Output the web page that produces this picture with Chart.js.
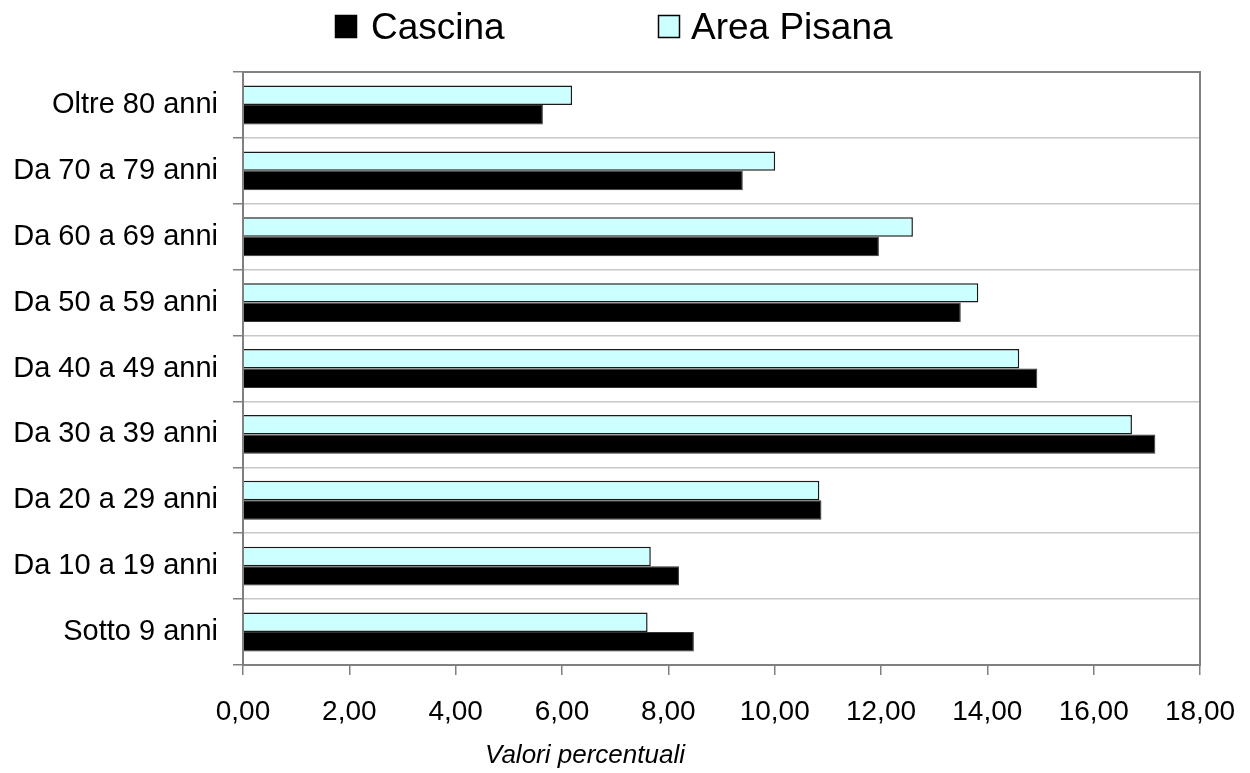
<!DOCTYPE html>
<html>
<head>
<meta charset="utf-8">
<script src="https://cdn.jsdelivr.net/npm/chart.js@4/dist/chart.umd.min.js"></script>
<style>
html, body { margin: 0; padding: 0; background: #ffffff; }
#wrap { position: relative; width: 1250px; height: 773px; }
</style>
</head>
<body>
<div id="wrap"><canvas id="c" width="1250" height="773"></canvas></div>
<script>
// ---- data ----
const categories = ["Oltre 80 anni", "Da 70 a 79 anni", "Da 60 a 69 anni", "Da 50 a 59 anni",
  "Da 40 a 49 anni", "Da 30 a 39 anni", "Da 20 a 29 anni", "Da 10 a 19 anni", "Sotto 9 anni"];
const cascina = [5.64, 9.40, 11.96, 13.50, 14.94, 17.16, 10.88, 8.20, 8.48];
const areaPisana = [6.19, 10.01, 12.60, 13.83, 14.60, 16.72, 10.84, 7.67, 7.61];
const seriesNames = ["Cascina", "Area Pisana"];
const xTicks = [0, 2, 4, 6, 8, 10, 12, 14, 16, 18];
const xTitle = "Valori percentuali";

const FONT = "'Liberation Sans', Arial, sans-serif";

// custom legend drawn on the canvas (Cascina first, Area Pisana second)
const legendPlugin = {
  id: 'topLegend',
  afterDraw(chart) {
    const ctx = chart.ctx;
    const items = [
      { ds: chart.data.datasets[1], boxX: 335, textX: 371 },
      { ds: chart.data.datasets[0], boxX: 658, textX: 691 }
    ];
    ctx.save();
    ctx.font = "37px " + FONT;
    ctx.textBaseline = 'alphabetic';
    ctx.textAlign = 'left';
    items.forEach(it => {
      ctx.fillStyle = it.ds.backgroundColor;
      ctx.fillRect(it.boxX, 15, 22, 23);
      ctx.lineWidth = 1.5;
      ctx.strokeStyle = '#000000';
      ctx.strokeRect(it.boxX + 0.5, 15.5, 21, 22);
      ctx.fillStyle = '#000000';
      ctx.fillText(it.ds.label, it.textX, 39);
    });
    ctx.restore();
  }
};

// plot border + x axis title
const framePlugin = {
  id: 'frame',
  afterDatasetsDraw(chart) {
    const a = chart.chartArea;
    const ctx = chart.ctx;
    ctx.save();
    ctx.strokeStyle = '#808080';
    ctx.lineWidth = 2;
    ctx.strokeRect(a.left, a.top, a.right - a.left, a.bottom - a.top);
    ctx.restore();
  },
  afterDraw(chart) {
    const ctx = chart.ctx;
    ctx.save();
    ctx.font = "italic 26px " + FONT;
    ctx.fillStyle = '#000000';
    ctx.textAlign = 'center';
    ctx.textBaseline = 'middle';
    ctx.fillText(xTitle, 585, 756);
    ctx.restore();
  }
};

new Chart(document.getElementById('c'), {
  type: 'bar',
  data: {
    labels: categories,
    datasets: [
      {
        label: seriesNames[1],
        data: areaPisana,
        backgroundColor: '#CCFFFF',
        borderColor: '#1a1a1a',
        borderWidth: 1.5,
        borderSkipped: 'left',
        categoryPercentage: 0.59,
        barPercentage: 1.0
      },
      {
        label: seriesNames[0],
        data: cascina,
        backgroundColor: '#000000',
        borderColor: '#333333',
        borderWidth: 1,
        borderSkipped: 'left',
        categoryPercentage: 0.59,
        barPercentage: 1.0
      }
    ]
  },
  options: {
    indexAxis: 'y',
    responsive: false,
    animation: false,
    devicePixelRatio: 1,
    layout: { padding: { top: 72, right: 50, bottom: 0, left: 0 } },
    plugins: {
      legend: { display: false },
      tooltip: { enabled: false },
      title: { display: false }
    },
    scales: {
      x: {
        type: 'linear',
        min: 0,
        max: 18,
        afterBuildTicks(scale) { scale.ticks = xTicks.map(v => ({ value: v })); },
        afterFit(scale) {
          scale.height = 108;
          scale.paddingLeft = 0;
          scale.paddingRight = 0;
        },
        ticks: {
          color: '#000000',
          font: { family: FONT, size: 28 },
          padding: 20,
          maxRotation: 0,
          callback: (v) => Number(v).toFixed(2).replace('.', ',')
        },
        grid: {
          drawOnChartArea: false,
          tickLength: 10,
          color: '#808080',
          lineWidth: 1.5
        },
        border: { display: true, color: '#808080', width: 2 }
      },
      y: {
        type: 'category',
        afterFit(scale) { scale.width = 243; },
        ticks: {
          color: '#000000',
          font: { family: FONT, size: 29 },
          padding: 15
        },
        grid: {
          offset: true,
          color: '#c8c8c8',
          lineWidth: 1.5,
          tickLength: 10,
          tickColor: '#808080'
        },
        border: { display: true, color: '#808080', width: 2 }
      }
    }
  },
  plugins: [legendPlugin, framePlugin]
});
</script>
</body>
</html>
